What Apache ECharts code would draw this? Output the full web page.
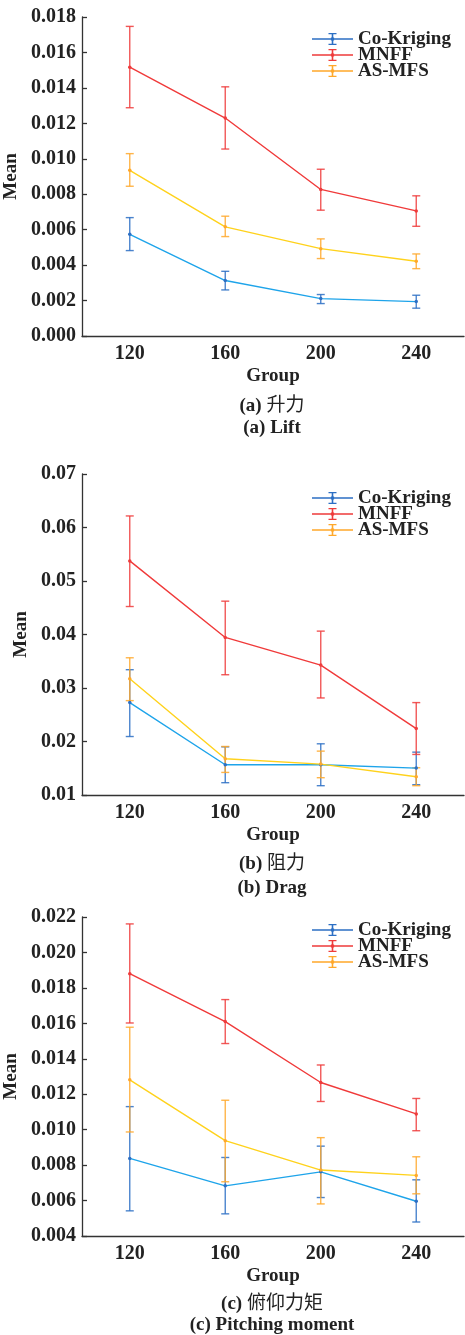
<!DOCTYPE html>
<html>
<head>
<meta charset="utf-8">
<script src="https://cdn.jsdelivr.net/npm/echarts@6/dist/echarts.min.js"></script>
<style>
html, body { margin: 0; padding: 0; background: #fff; }
#chart { width: 465px; height: 1335px; }
</style>
</head>
<body>
<div id="chart"></div>
<script>
const groups = ['120', '160', '200', '240']
const methods = ['Co-Kriging', 'MNFF', 'AS-MFS']

// (a) Lift
const liftCK = [0.00574, 0.00313, 0.00211, 0.00194]
const liftCKLow = [0.00482, 0.0026, 0.00183, 0.00157]
const liftCKHigh = [0.00668, 0.00365, 0.00234, 0.0023]
const liftMNFF = [0.01517, 0.0123, 0.00827, 0.00706]
const liftMNFFLow = [0.01288, 0.01055, 0.0071, 0.00619]
const liftMNFFHigh = [0.01747, 0.01406, 0.00941, 0.00791]
const liftAS = [0.00935, 0.00616, 0.00493, 0.00422]
const liftASLow = [0.00845, 0.00561, 0.00437, 0.0038]
const liftASHigh = [0.01029, 0.00676, 0.00548, 0.00463]

// (b) Drag
const dragCK = [0.02727, 0.01565, 0.01565, 0.01503]
const dragCKLow = [0.02093, 0.0123, 0.01174, 0.01193]
const dragCKHigh = [0.03342, 0.019, 0.01957, 0.01801]
const dragMNFF = [0.05376, 0.03945, 0.03429, 0.02242]
const dragMNFFLow = [0.04523, 0.03248, 0.02814, 0.01758]
const dragMNFFHigh = [0.06216, 0.04623, 0.04063, 0.02727]
const dragAS = [0.03174, 0.01677, 0.01578, 0.01342]
const dragASLow = [0.02764, 0.01422, 0.01323, 0.01174]
const dragASHigh = [0.03565, 0.01907, 0.0182, 0.01509]

// (c) Pitching moment
const pitchCK = [0.00838, 0.00683, 0.00762, 0.00596]
const pitchCKLow = [0.00542, 0.00525, 0.00617, 0.00479]
const pitchCKHigh = [0.0113, 0.00843, 0.00907, 0.00717]
const pitchMNFF = [0.0188, 0.0161, 0.01266, 0.01089]
const pitchMNFFLow = [0.01602, 0.01486, 0.01159, 0.00994]
const pitchMNFFHigh = [0.02161, 0.01734, 0.01365, 0.01176]
const pitchAS = [0.01281, 0.00938, 0.00772, 0.00742]
const pitchASLow = [0.00987, 0.00706, 0.00581, 0.00638]
const pitchASHigh = [0.01578, 0.01166, 0.00955, 0.00847]

const lineColors = ['#1ea4ea', '#f03a3a', '#ffd21c']
const barColors = ['#2c6fc4', '#ee3b3b', '#ffa82a']

const serif = "'Liberation Serif', 'Noto Sans CJK SC', serif"
const legendIcon = 'path://M0,5.2h41v1.6h-41z M19.7,0h1.6v12h-1.6z M16.5,0h8v1.3h-8z M16.5,10.7h8v1.3h-8z M18.9,4.6h3.2v2.8h-3.2z'

const panels = [
  { top: 17, height: 319, min: 0, max: 0.018, step: 0.002, dec: 3, legendTop: 29.5,
    mean: [liftCK, liftMNFF, liftAS], low: [liftCKLow, liftMNFFLow, liftASLow], high: [liftCKHigh, liftMNFFHigh, liftASHigh] },
  { top: 474, height: 321, min: 0.01, max: 0.07, step: 0.01, dec: 2, legendTop: 488.5,
    mean: [dragCK, dragMNFF, dragAS], low: [dragCKLow, dragMNFFLow, dragASLow], high: [dragCKHigh, dragMNFFHigh, dragASHigh] },
  { top: 917, height: 319, min: 0.004, max: 0.022, step: 0.002, dec: 3, legendTop: 920.5,
    mean: [pitchCK, pitchMNFF, pitchAS], low: [pitchCKLow, pitchMNFFLow, pitchASLow], high: [pitchCKHigh, pitchMNFFHigh, pitchASHigh] }
]

function errorSeries(name, idx, low, high, color) {
  return {
    type: 'custom',
    name: name,
    xAxisIndex: idx,
    yAxisIndex: idx,
    silent: true,
    z: 2,
    encode: { x: 0, y: [1, 2] },
    data: groups.map((g, i) => [i, low[i], high[i]]),
    renderItem(params, api) {
      const top = api.coord([api.value(0), api.value(2)])
      const bot = api.coord([api.value(0), api.value(1)])
      const w = 4
      const st = { stroke: color, lineWidth: 1.4, opacity: 0.85 }
      return {
        type: 'group',
        children: [
          { type: 'line', shape: { x1: top[0], y1: top[1], x2: bot[0], y2: bot[1] }, style: st },
          { type: 'line', shape: { x1: top[0] - w, y1: top[1], x2: top[0] + w, y2: top[1] }, style: st },
          { type: 'line', shape: { x1: bot[0] - w, y1: bot[1], x2: bot[0] + w, y2: bot[1] }, style: st }
        ]
      }
    }
  }
}

const grid = []
const xAxis = []
const yAxis = []
const legend = []
const series = []

panels.forEach((p, idx) => {
  grid.push({ left: 82, right: 1, top: p.top, height: p.height, containLabel: false, outerBoundsMode: 'none' })
  xAxis.push({
    type: 'category',
    gridIndex: idx,
    data: groups,
    boundaryGap: true,
    name: 'Group',
    nameLocation: 'middle',
    nameGap: 31,
    nameTextStyle: { fontFamily: serif, fontWeight: 'bold', fontSize: 19, color: '#222' },
    axisLine: { lineStyle: { color: '#333', width: 1.3 } },
    axisTick: { inside: true, length: 5, alignWithLabel: true, lineStyle: { color: '#333', width: 1.3 } },
    axisLabel: { margin: 8, fontFamily: serif, fontWeight: 'bold', fontSize: 20, color: '#222' },
    splitLine: { show: false }
  })
  yAxis.push({
    type: 'value',
    gridIndex: idx,
    min: p.min,
    max: p.max,
    interval: p.step,
    name: 'Mean',
    nameLocation: 'middle',
    nameGap: 51,
    nameTextStyle: { fontFamily: serif, fontWeight: 'bold', fontSize: 19, color: '#222' },
    axisLine: { show: true, lineStyle: { color: '#333', width: 1.3 } },
    axisTick: { show: true, inside: true, length: 5, lineStyle: { color: '#333', width: 1.3 } },
    axisLabel: {
      margin: 6,
      fontFamily: serif,
      fontWeight: 'bold',
      fontSize: 20,
      color: '#222',
      formatter: (v) => v.toFixed(p.dec)
    },
    splitLine: { show: false }
  })
  legend.push({
    orient: 'vertical',
    left: 312,
    top: p.legendTop,
    padding: 0,
    itemGap: -3,
    itemWidth: 41,
    itemHeight: 12,
    selectedMode: false,
    textStyle: { fontFamily: serif, fontWeight: 'bold', fontSize: 19, color: '#222' },
    data: methods.map((m, k) => ({ name: m, icon: legendIcon, itemStyle: { color: barColors[k] } }))
  })
  methods.forEach((m, k) => {
    series.push(errorSeries(m, idx, p.low[k], p.high[k], barColors[k]))
    series.push({
      type: 'line',
      name: m,
      xAxisIndex: idx,
      yAxisIndex: idx,
      data: p.mean[k],
      symbol: 'circle',
      symbolSize: 3.5,
      z: 3,
      lineStyle: { color: lineColors[k], width: 1.4 },
      itemStyle: { color: barColors[k] },
      animation: false
    })
  })
})

const captions = [
  { y: 406, text: '{b|(a)} 升力' },
  { y: 428, text: '{b|(a) Lift}' },
  { y: 864, text: '{b|(b)} 阻力' },
  { y: 888, text: '{b|(b) Drag}' },
  { y: 1304, text: '{b|(c)} 俯仰力矩' },
  { y: 1325, text: '{b|(c) Pitching moment}' }
]

const myChart = echarts.init(document.getElementById('chart'))
myChart.setOption({
  backgroundColor: '#fff',
  animation: false,
  grid: grid,
  xAxis: xAxis,
  yAxis: yAxis,
  legend: legend,
  series: series,
  graphic: captions.map((c) => ({
    type: 'text',
    x: 272,
    y: c.y,
    style: {
      text: c.text,
      align: 'center',
      verticalAlign: 'middle',
      fontFamily: serif,
      fontSize: 19,
      fill: '#222',
      rich: {
        b: { fontFamily: serif, fontWeight: 'bold', fontSize: 19, fill: '#222' }
      }
    }
  }))
})
</script>
</body>
</html>
